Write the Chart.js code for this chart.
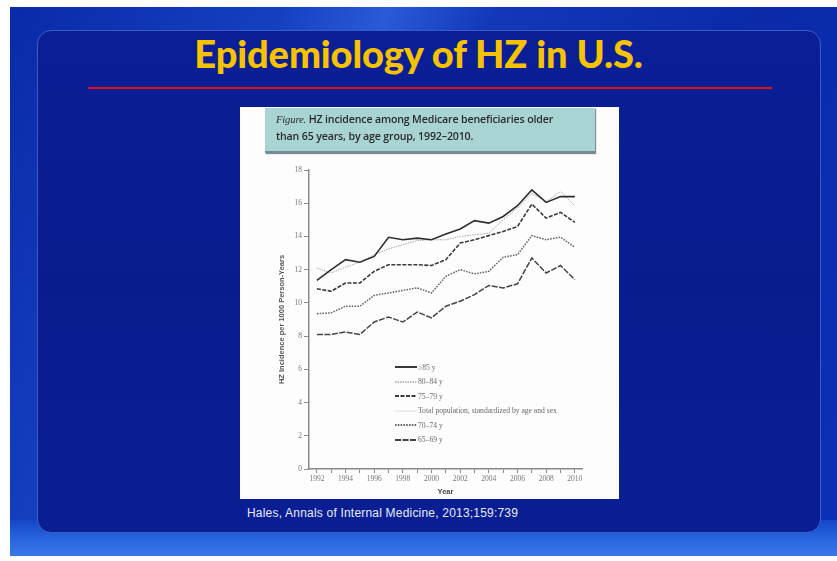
<!DOCTYPE html>
<html><head><meta charset="utf-8">
<script src="https://cdn.jsdelivr.net/npm/chart.js@4.4.1/dist/chart.umd.min.js"></script>
<style>
html,body{margin:0;padding:0;background:#fff;width:837px;height:561px;overflow:hidden;font-family:"Liberation Sans",Arial,sans-serif}
#slide{position:absolute;left:10px;top:7px;width:827px;height:549px;
 background:linear-gradient(115deg,#0a2aa8 0%,#1440c0 25%,#2a5ad8 35%,#1238b8 45%,#0a2aa8 70%,#0c30b8 100%);}
#bottomband{position:absolute;left:10px;top:520px;width:827px;height:36px;background:linear-gradient(180deg,#1446c8,#2a6ae0 60%,#3a78e8)}
#panel{position:absolute;left:37px;top:30px;width:784px;height:503px;border-radius:14px;
 background:linear-gradient(180deg,#0a1f96 0%,#091c8e 50%,#0a1e94 100%);border:1.5px solid #3a5cc8;box-sizing:border-box}
#title{position:absolute;left:0;top:30px;width:837px;text-align:center;color:#f7c300;font-family:Lato,"Open Sans",sans-serif;font-weight:900;font-size:38px;letter-spacing:-0.1px}
#rule{position:absolute;left:88px;top:87px;width:684px;height:2px;background:#e0101a}
#fig{position:absolute;left:240px;top:107px;width:379px;height:392px;background:#fdfdfd}
#cap{position:absolute;left:265px;top:108px;width:330px;height:43px;background:#a9d4d4;border-bottom:2px solid #6f8f90;box-shadow:1px 1px 1px #889}
#cap div{position:absolute;left:11px;top:3px;font-family:"Open Sans","Liberation Sans",sans-serif;font-size:10.6px;line-height:17px;color:#2a2a2a;font-weight:600;letter-spacing:-0.15px}
#cap i{font-family:"Liberation Serif",serif;font-weight:400}
#src{position:absolute;left:247px;top:506px;color:#e8ecff;font-size:12px;font-family:"Liberation Sans",Arial,sans-serif;letter-spacing:0.2px}
#cv{position:absolute;left:240px;top:107px;}
#legend{position:absolute;left:395px;top:360px;font-family:"Liberation Serif",serif;font-size:7.6px;color:#6a6a6a}
#legend .row{height:14.5px;display:flex;align-items:center;white-space:nowrap}
#legend svg{width:22px;height:6px;margin-right:1px}
</style></head>
<body>
<div id="slide"></div>
<div id="bottomband"></div>
<div id="panel"></div>
<div id="title">Epidemiology of HZ in U.S.</div>
<div id="rule"></div>
<div id="fig"></div>
<canvas id="cv" width="379" height="392"></canvas>
<div id="cap"><div><i>Figure.</i> HZ incidence among Medicare beneficiaries older<br>than 65 years, by age group, 1992–2010.</div></div>
<div id="legend"></div>
<div id="src">Hales, Annals of Internal Medicine, 2013;159:739</div>
<script>
const years = [1992,1993,1994,1995,1996,1997,1998,1999,2000,2001,2002,2003,2004,2005,2006,2007,2008,2009,2010];
const age85 = [11.35,12.0,12.6,12.45,12.8,13.95,13.8,13.9,13.8,14.15,14.45,14.95,14.8,15.2,15.85,16.8,16.05,16.4,16.4];
const age80_84 = [12.1,11.8,12.15,12.45,12.9,13.25,13.5,13.75,13.8,13.8,14.0,14.1,14.2,15.0,15.7,16.6,16.1,16.7,15.85];
const age75_79 = [10.85,10.7,11.2,11.2,11.9,12.3,12.3,12.3,12.25,12.6,13.6,13.8,14.05,14.3,14.6,15.95,15.1,15.45,14.85];
const totalPop = [];
const age70_74 = [9.35,9.4,9.8,9.8,10.45,10.6,10.75,10.9,10.6,11.6,12.0,11.75,11.9,12.75,12.9,14.05,13.8,13.95,13.35];
const age65_69 = [8.1,8.1,8.25,8.1,8.85,9.15,8.85,9.45,9.1,9.8,10.1,10.5,11.05,10.9,11.15,12.7,11.8,12.25,11.4];
const seriesNames = ["≥85 y","80–84 y","75–79 y","Total population, standardized by age and sex","70–74 y","65–69 y"];
const yTicks = [0,2,4,6,8,10,12,14,16,18];

const styles = [
 {c:'#2e2e2e',w:1.6,d:[]},
 {c:'#a8a8a8',w:1.0,d:[1.5,1]},
 {c:'#3a3a3a',w:1.6,d:[4,1.5]},
 {c:'#e4e4e4',w:1.0,d:[]},
 {c:'#666666',w:1.5,d:[1.6,1.2]},
 {c:'#444444',w:1.5,d:[6,1.5]}
];
const allData=[age85,age80_84,age75_79,totalPop,age70_74,age65_69];
const datasets = allData.map((arr,i)=>({
  label:seriesNames[i],
  data:arr.map((v,j)=>({x:years[j],y:v})),
  borderColor:styles[i].c,borderWidth:styles[i].w,borderDash:styles[i].d,
  pointRadius:0,tension:0,fill:false
}));
const lg=document.getElementById('legend');
seriesNames.forEach((n,i)=>{
  const r=document.createElement('div');r.className='row';
  const s=styles[i];
  r.innerHTML=`<svg viewBox="0 0 22 6"><line x1="0" y1="3" x2="22" y2="3" stroke="${s.c}" stroke-width="${s.w+0.3}" stroke-dasharray="${s.d.join(' ')||'none'}"/></svg><span>${n}</span>`;
  lg.appendChild(r);
});

new Chart(document.getElementById('cv'),{
 type:'line',
 data:{datasets},
 options:{
  responsive:false,animation:false,
  layout:{padding:{top:63,right:37,left:0,bottom:0}},
  plugins:{legend:{display:false},tooltip:{enabled:false}},
  scales:{
   x:{type:'linear',min:1991.45,max:2010.5,
      border:{color:'#8a8a8a',width:1.5},
      grid:{drawOnChartArea:false,tickLength:4,color:'#8a8a8a',lineWidth:1},
      ticks:{stepSize:1,includeBounds:false,autoSkip:false,maxRotation:0,padding:2,color:'#777',
        font:{family:'"Liberation Serif",serif',size:7.5},
        callback:v=>(v%2===0? String(v):'')},
      title:{display:true,text:'Year',color:'#444',font:{family:'"Liberation Sans",sans-serif',size:7.5,weight:'bold'},padding:{top:0,bottom:3}},
      afterFit:s=>{s.height=30;}
   },
   y:{min:0,max:18,
      border:{color:'#8a8a8a',width:1.5},
      grid:{drawOnChartArea:false,tickLength:5,color:'#8a8a8a'},
      afterBuildTicks:s=>{s.ticks=yTicks.map(v=>({value:v}));},
      ticks:{color:'#777',padding:2,font:{family:'"Liberation Serif",serif',size:7.5}},
      title:{display:true,text:'HZ Incidence per 1000 Person-Years',color:'#555',font:{family:'"Liberation Sans",sans-serif',size:7.5,weight:'bold'},padding:{top:37,bottom:0}},
      afterFit:s=>{s.width=69;}
   }
  }
 }
});
</script>
</body></html>
